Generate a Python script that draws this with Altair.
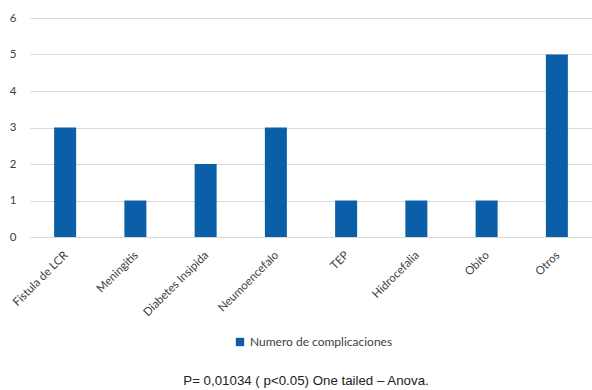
import altair as alt
import pandas as pd

categories = ["Fistula de LCR", "Meningitis", "Diabetes Insipida", "Neumoencefalo",
              "TEP", "Hidrocefalia", "Obito", "Otros"]
values = [3, 1, 2, 3, 1, 1, 1, 5]
series_name = "Numero de complicaciones"
caption = "P= 0,01034 ( p<0.05) One tailed \u2013 Anova."

df = pd.DataFrame({"cat": categories, "val": values, "series": [series_name] * len(categories)})

FONT = "Lato"
LABEL_COLOR = "#404040"

chart = alt.Chart(df).mark_bar(size=22).encode(
    x=alt.X("cat:N", sort=categories, title=None,
            axis=alt.Axis(labelAngle=-45, labelFontSize=11.5, labelFont=FONT,
                          labelColor=LABEL_COLOR, ticks=False, domainColor="#d9d9d9",
                          labelPadding=12, labelOffset=-3, grid=False)),
    y=alt.Y("val:Q", title=None, scale=alt.Scale(domain=[0, 6]),
            axis=alt.Axis(values=[0, 1, 2, 3, 4, 5, 6], labelFontSize=11.5, labelFont=FONT,
                          labelColor=LABEL_COLOR, ticks=False, domain=False,
                          gridColor="#d9d9d9", labelPadding=14)),
    color=alt.Color("series:N", scale=alt.Scale(range=["#0b5ea8"]),
                    legend=alt.Legend(title=None, orient="none", legendX=204, legendY=318,
                                      symbolType="square", symbolSize=70,
                                      labelFont=FONT, labelFontSize=12,
                                      labelColor=LABEL_COLOR, symbolStrokeWidth=0)),
).properties(
    width=562, height=219,
    title=alt.TitleParams(caption, orient="bottom", anchor="middle", frame="group",
                          font="Liberation Sans", fontSize=13.3, fontWeight="normal",
                          color="#222222", baseline="top", offset=26, dx=-5),
    autosize=alt.AutoSizeParams(type="none"),
    padding={"left": 30, "top": 18, "right": 0, "bottom": 153},
).configure(background="white").configure_view(strokeWidth=0, strokeOpacity=0)

chart.save("out.html", embed_options={"renderer": "svg", "actions": False})
